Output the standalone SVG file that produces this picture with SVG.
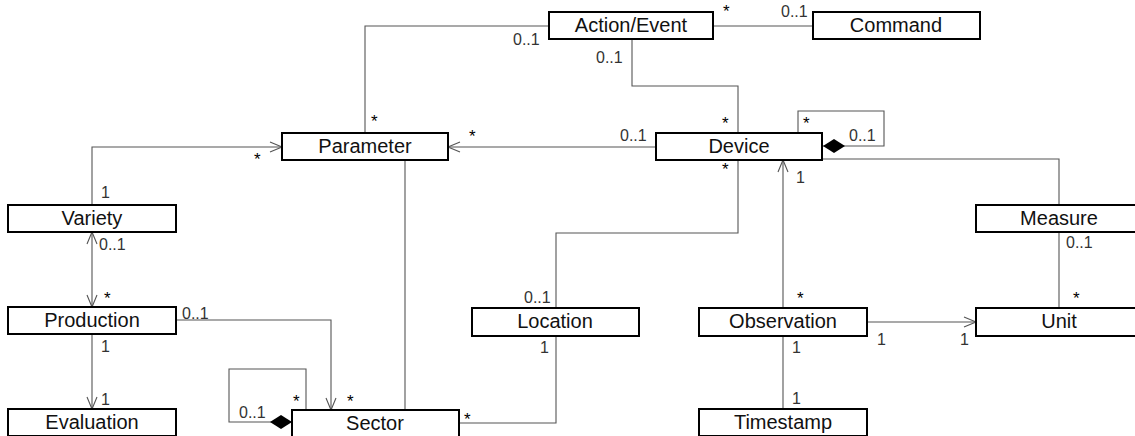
<svg xmlns="http://www.w3.org/2000/svg" width="1135" height="436" viewBox="0 0 1135 436">
  <style>
    .box rect { fill: #ffffff; stroke: #000000; stroke-width: 2; }
    .box text { font-family: "Liberation Sans", Arial, sans-serif; font-size: 20px; fill: #111111; text-anchor: middle; }
    .conn path { fill: none; stroke: #555555; stroke-width: 1.1; }
    .mult { font-family: "Liberation Sans", Arial, sans-serif; font-size: 16px; fill: #333333; }
    .star { font-family: "Liberation Sans", Arial, sans-serif; font-size: 17px; fill: #000000; }
  </style>
  <defs>
    <marker id="open" markerUnits="userSpaceOnUse" markerWidth="14" markerHeight="12" refX="12" refY="5" orient="auto-start-reverse" overflow="visible">
      <path d="M0,0 L12,5 L0,10" fill="none" stroke="#555555" stroke-width="1.1"/>
    </marker>
    <marker id="diamond" markerUnits="userSpaceOnUse" markerWidth="24" markerHeight="16" refX="22" refY="7" orient="auto" overflow="visible">
      <path d="M0,7 L11,0 L22,7 L11,14 Z" fill="#000000"/>
    </marker>
  </defs>

  <rect width="1135" height="436" fill="#ffffff"/>

  <!-- associations -->
  <g id="connectors" class="conn">
    <path d="M549,26 H365 V133"/>
    <path d="M632,39 V86 H738 V133"/>
    <path d="M713,26 H813"/>
    <path d="M798,133 V111 H884 V146 H823" marker-end="url(#diamond)"/>
    <path d="M656,147 H448" marker-end="url(#open)"/>
    <path d="M822,159 H1059 V205"/>
    <path d="M1059,232 V308"/>
    <path d="M738,160 V233 H556 V308"/>
    <path d="M783,308 V160" marker-end="url(#open)"/>
    <path d="M867,322 H976" marker-end="url(#open)"/>
    <path d="M783,336 V409"/>
    <path d="M556,336 V423 H459"/>
    <path d="M405,160 V410"/>
    <path d="M306,410 V369 H229 V422 H292" marker-end="url(#diamond)"/>
    <path d="M176,320 H331 V410" marker-end="url(#open)"/>
    <path d="M92,334 V409" marker-end="url(#open)"/>
    <path d="M92,232 V307" marker-start="url(#open)" marker-end="url(#open)"/>
    <path d="M92,205 V147 H282" marker-end="url(#open)"/>
  </g>

  <!-- multiplicities -->
  <g id="multiplicities">
    <text class="mult" x="513" y="45">0..1</text>
    <text class="mult" x="596" y="63">0..1</text>
    <text class="star" x="723" y="17">*</text>
    <text class="mult" x="781" y="17">0..1</text>
    <text class="star" x="371" y="127">*</text>
    <text class="star" x="722" y="129">*</text>
    <text class="star" x="803" y="129">*</text>
    <text class="mult" x="620" y="141">0..1</text>
    <text class="mult" x="849" y="141">0..1</text>
    <text class="star" x="469" y="142">*</text>
    <text class="star" x="254" y="165">*</text>
    <text class="star" x="722" y="175">*</text>
    <text class="mult" x="796" y="183">1</text>
    <text class="mult" x="101" y="198">1</text>
    <text class="mult" x="1066" y="248">0..1</text>
    <text class="mult" x="99" y="250">0..1</text>
    <text class="star" x="104" y="304">*</text>
    <text class="star" x="797" y="304">*</text>
    <text class="star" x="1073" y="304">*</text>
    <text class="mult" x="524" y="303">0..1</text>
    <text class="mult" x="182" y="319">0..1</text>
    <text class="mult" x="877" y="345">1</text>
    <text class="mult" x="960" y="345">1</text>
    <text class="mult" x="101" y="352">1</text>
    <text class="mult" x="540" y="353">1</text>
    <text class="mult" x="792" y="353">1</text>
    <text class="mult" x="792" y="404">1</text>
    <text class="mult" x="101" y="405">1</text>
    <text class="star" x="293" y="407">*</text>
    <text class="star" x="347" y="407">*</text>
    <text class="mult" x="239" y="418">0..1</text>
    <text class="star" x="464" y="425">*</text>
  </g>

  <!-- classes -->
  <g id="action-event" class="box"><rect x="549" y="12" width="164" height="27"/><text x="631" y="32">Action/Event</text></g>
  <g id="command" class="box"><rect x="813" y="12" width="167" height="27"/><text x="896" y="32">Command</text></g>
  <g id="parameter" class="box"><rect x="282" y="133" width="166" height="27"/><text x="365" y="153">Parameter</text></g>
  <g id="device" class="box"><rect x="656" y="133" width="166" height="27"/><text x="739" y="153">Device</text></g>
  <g id="variety" class="box"><rect x="8" y="205" width="168" height="27"/><text x="92" y="225">Variety</text></g>
  <g id="measure" class="box"><rect x="976" y="205" width="166" height="27"/><text x="1059" y="225">Measure</text></g>
  <g id="production" class="box"><rect x="8" y="307" width="168" height="27"/><text x="92" y="327">Production</text></g>
  <g id="location" class="box"><rect x="472" y="308" width="167" height="28"/><text x="555" y="328">Location</text></g>
  <g id="observation" class="box"><rect x="699" y="308" width="168" height="28"/><text x="783" y="328">Observation</text></g>
  <g id="unit" class="box"><rect x="976" y="308" width="166" height="28"/><text x="1059" y="328">Unit</text></g>
  <g id="evaluation" class="box"><rect x="8" y="409" width="168" height="27"/><text x="92" y="429">Evaluation</text></g>
  <g id="sector" class="box"><rect x="292" y="410" width="167" height="27"/><text x="375" y="430">Sector</text></g>
  <g id="timestamp" class="box"><rect x="699" y="409" width="168" height="27"/><text x="783" y="429">Timestamp</text></g>
</svg>
